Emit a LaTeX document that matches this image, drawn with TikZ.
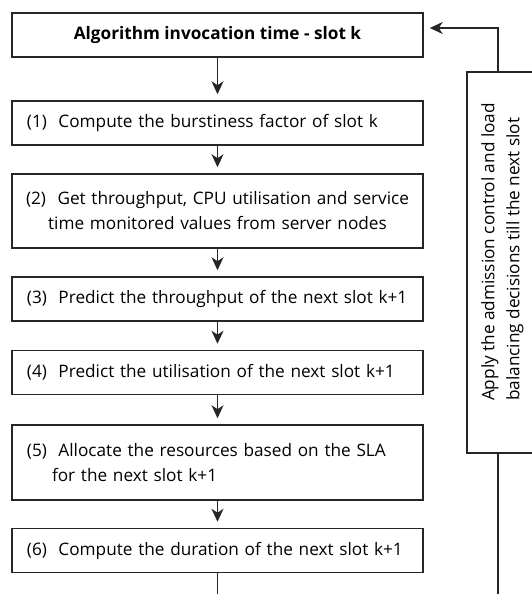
\documentclass[tikz,border=0pt]{standalone}
\usepackage{fontspec}
\setmainfont{Open Sans}
\usetikzlibrary{arrows.meta}

\newcommand{\boxfont}{\fontsize{17.2pt}{25pt}\selectfont}
\tikzstyle{headbox} = [rectangle, minimum width=411pt, minimum height=44pt, text centered, draw=black!85, line width=1.5pt, font=\boxfont\bfseries]
\tikzstyle{process} = [rectangle, minimum width=411pt, minimum height=44pt, text width=381pt, inner xsep=15pt, align=left, draw=black!85, line width=1.5pt, font=\boxfont]
\tikzstyle{sidebox} = [rectangle, minimum width=381pt, minimum height=71pt, rotate=90, draw=black!85, line width=1.5pt]
\tikzstyle{sidetext} = [rotate=90, align=left, font=\boxfont]
\tikzstyle{arrow} = [line width=1.5pt, draw=black!85, -{Stealth[length=13pt,width=12pt,inset=4pt]}, shorten >=6pt]
\tikzstyle{line} = [line width=1.5pt, draw=black!85]

\begin{document}
\begin{tikzpicture}[node distance=88pt]
\clip (0,0) rectangle (532pt,-594pt);

% Nodes
\node (invoke) [headbox] at (217.5pt,-35pt) {Algorithm invocation time - slot k};
\node (burst) [process, below of=invoke] {(1)\ \ Compute the burstiness factor of slot k};
\node (monitor) [process, below of=burst, align=center, text width=405pt, inner xsep=3pt, minimum height=74pt] {(2)\ \ Get throughput, CPU utilisation and service\\time monitored values from server nodes};
\node (thru) [process, below of=monitor] {(3)\ \ Predict the throughput of the next slot k+1};
\node (util) [process, below of=thru, yshift=14.5pt] {(4)\ \ Predict the utilisation of the next slot k+1};
\node (alloc) [process, below of=util, yshift=-2pt, minimum height=75pt] {(5)\ \ Allocate the resources based on the SLA\\\hspace*{25pt}for the next slot k+1};
\node (duration) [process, below of=alloc] {(6)\ \ Compute the duration of the next slot k+1};

% Side box
\node (decide) [sidebox] at (502.5pt,-262.5pt) {};
\node (decidetext) [sidetext] at (502.5pt,-252pt) {Apply the admission control and load\\balancing decisions till the next slot};

\coordinate (loop) at (498pt,-28pt);
\coordinate (bottom) at (0,-600pt);

% Arrows
\draw [arrow] (invoke) -- (burst);
\draw [arrow] (burst) -- (monitor);
\draw [arrow] (monitor) -- (thru);
\draw [arrow] (thru) -- (util);
\draw [arrow] (util) -- (alloc);
\draw [arrow] (alloc) -- (duration);
\draw [arrow] (loop |- decide.east) -- (loop) -- (loop -| invoke.east);
\draw [line] (duration.south) -- (duration.south |- bottom);
\draw [line] (loop |- decide.west) -- (loop |- bottom);

\end{tikzpicture}
\end{document}
